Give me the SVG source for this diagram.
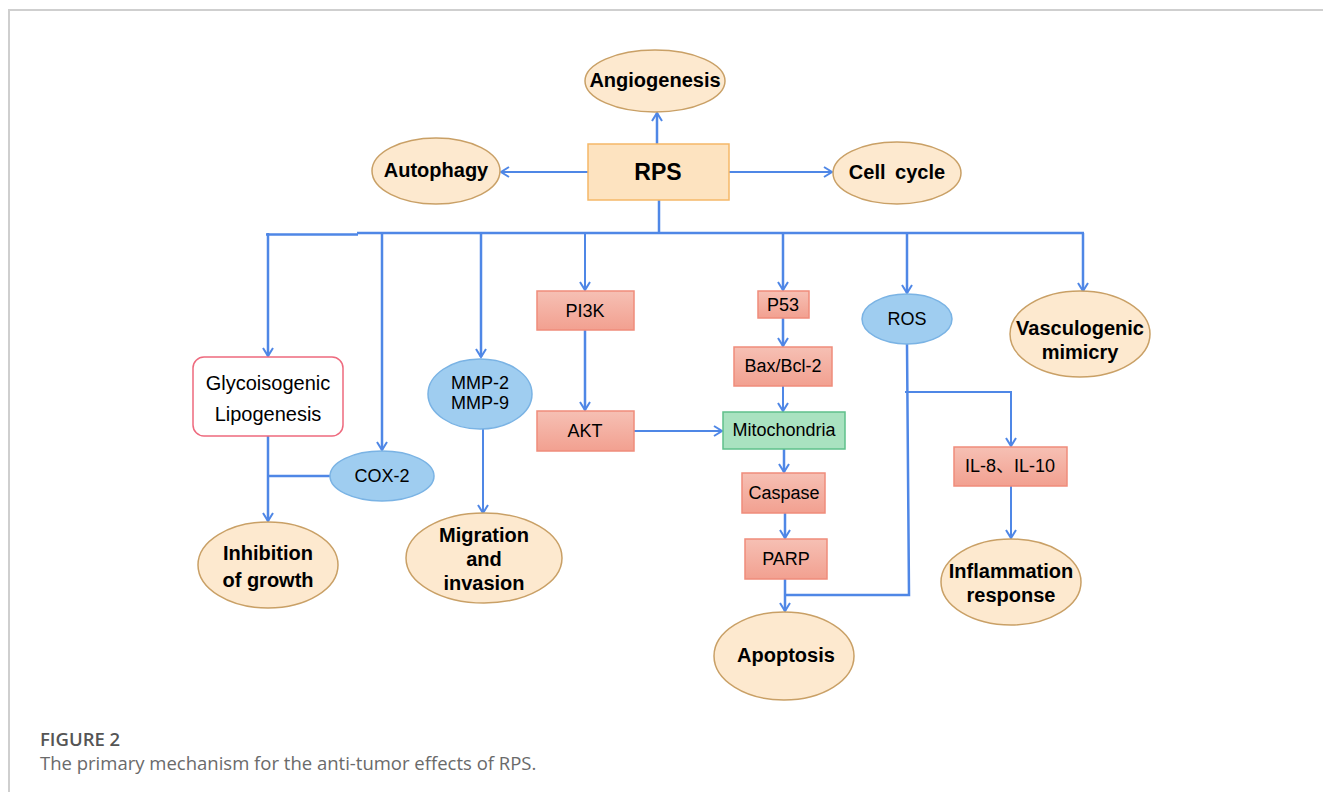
<svg xmlns="http://www.w3.org/2000/svg" width="1323" height="792" viewBox="0 0 1323 792">
<style>
.frame{fill:none;stroke:#cfcfcf;stroke-width:2}
.out{fill:#fde9cf;stroke:#c9a066;stroke-width:1.5}
.red{fill:url(#gr);stroke:#ef8c7b;stroke-width:1.5}
.blue{fill:#9fcdf0;stroke:#7ab3e4;stroke-width:1.5}
.green{fill:#a9e2c0;stroke:#5fc08b;stroke-width:1.5}
.rps{fill:#fde3c0;stroke:#f5b868;stroke-width:1.5}
.glyco{fill:#fff;stroke:#ee6a7e;stroke-width:1.5}
.b{font-family:"Liberation Sans",Arial,sans-serif;font-weight:bold;font-size:20px;fill:#000;text-anchor:middle;dominant-baseline:central}
.r{font-family:"Liberation Sans",Arial,"Noto Sans CJK SC",sans-serif;font-size:18px;fill:#000;text-anchor:middle;dominant-baseline:central}
.conn path{fill:none;stroke:#4f87e6;stroke-width:2.5}
.cap{font-family:"Open Sans",sans-serif}
</style>
<defs>
<linearGradient id="gr" x1="0" y1="0" x2="0" y2="1">
<stop offset="0" stop-color="#f6c0b4"/>
<stop offset="1" stop-color="#f2a090"/>
</linearGradient>
<marker id="ah" viewBox="-10 -7 12 14" refX="0" refY="0" markerWidth="12" markerHeight="14" markerUnits="userSpaceOnUse" orient="auto">
<path d="M-8,-5 L0,0 L-8,5" fill="none" stroke="#4f87e6" stroke-width="2"/>
</marker>
</defs>
<rect x="-5" y="-5" width="1340" height="810" fill="#fff"/>
<path class="frame" d="M9,792 V10 H1323"/>

<g class="conn">
<path d="M657,144 V113" marker-end="url(#ah)"/>
<path d="M588,172 H501" marker-end="url(#ah)" style="stroke-width:2.2"/>
<path d="M729,172 H832" marker-end="url(#ah)" style="stroke-width:2"/>
<path d="M659,200 V233"/>
<path d="M266,234.5 H358 M357,233 H1084"/>
<path d="M268,233 V356" marker-end="url(#ah)"/>
<path d="M382,233 V450" marker-end="url(#ah)"/>
<path d="M481,233 V357" marker-end="url(#ah)"/>
<path d="M585,233 V290" marker-end="url(#ah)" style="stroke-width:2"/>
<path d="M783,233 V290" marker-end="url(#ah)"/>
<path d="M907,233 V293" marker-end="url(#ah)"/>
<path d="M1083,233 V291" marker-end="url(#ah)"/>
<path d="M585,330 V410" marker-end="url(#ah)"/>
<path d="M783,318 V346" marker-end="url(#ah)"/>
<path d="M783,386 V411" marker-end="url(#ah)" style="stroke-width:2"/>
<path d="M634,431 H722" marker-end="url(#ah)" style="stroke-width:2"/>
<path d="M784,449 V472" marker-end="url(#ah)"/>
<path d="M785,513 V538" marker-end="url(#ah)"/>
<path d="M785,579 V611" marker-end="url(#ah)"/>
<path d="M907,344 L909,595 H785"/>
<path d="M905,392 H1011 V446" marker-end="url(#ah)" style="stroke-width:2"/>
<path d="M1011,486 V538" marker-end="url(#ah)" style="stroke-width:2"/>
<path d="M268,436 V521" marker-end="url(#ah)"/>
<path d="M330,476 H268"/>
<path d="M483,429 V513" marker-end="url(#ah)" style="stroke-width:2"/>
</g>

<g id="rps"><rect class="rps" x="588" y="144" width="141" height="56"/><text class="b" x="658" y="172" style="font-size:23px">RPS</text></g>
<g id="angiogenesis"><ellipse class="out" cx="655" cy="81" rx="70" ry="31"/><text class="b" x="655" y="80">Angiogenesis</text></g>
<g id="autophagy"><ellipse class="out" cx="436" cy="171" rx="64" ry="33"/><text class="b" x="436" y="170">Autophagy</text></g>
<g id="cellcycle"><ellipse class="out" cx="897" cy="173" rx="64" ry="31"/><text class="b" x="897" y="172" style="word-spacing:4px">Cell cycle</text></g>

<g id="glyco"><rect class="glyco" x="193" y="357" width="150" height="79" rx="11"/><text class="r" x="268" y="383" style="font-size:20px">Glycoisogenic</text><text class="r" x="268" y="414" style="font-size:20px">Lipogenesis</text></g>
<g id="cox2"><ellipse class="blue" cx="382" cy="476" rx="52" ry="25"/><text class="r" x="382" y="476">COX-2</text></g>
<g id="mmp"><ellipse class="blue" cx="480" cy="394" rx="52" ry="35"/><text class="r" x="480" y="383">MMP-2</text><text class="r" x="480" y="403">MMP-9</text></g>
<g id="pi3k"><rect class="red" x="537" y="291" width="97" height="39"/><text class="r" x="585" y="311">PI3K</text></g>
<g id="akt"><rect class="red" x="537" y="411" width="97" height="40"/><text class="r" x="585" y="431">AKT</text></g>
<g id="p53"><rect class="red" x="758" y="291" width="51" height="27"/><text class="r" x="783" y="305">P53</text></g>
<g id="baxbcl2"><rect class="red" x="734" y="347" width="98" height="39"/><text class="r" x="783" y="366">Bax/Bcl-2</text></g>
<g id="mitochondria"><rect class="green" x="723" y="412" width="122" height="37"/><text class="r" x="784" y="430">Mitochondria</text></g>
<g id="caspase"><rect class="red" x="742" y="473" width="83" height="40"/><text class="r" x="784" y="493">Caspase</text></g>
<g id="parp"><rect class="red" x="745" y="539" width="82" height="40"/><text class="r" x="786" y="559">PARP</text></g>
<g id="ros"><ellipse class="blue" cx="907" cy="319" rx="45" ry="25"/><text class="r" x="907" y="319">ROS</text></g>
<g id="il"><rect class="red" x="954" y="447" width="113" height="39"/><text class="r" x="1010" y="466">IL-8、IL-10</text></g>

<g id="inhibition"><ellipse class="out" cx="268" cy="565" rx="70" ry="43"/><text class="b" x="268" y="553">Inhibition</text><text class="b" x="268" y="580">of growth</text></g>
<g id="migration"><ellipse class="out" cx="484" cy="558" rx="78" ry="45"/><text class="b" x="484" y="535">Migration</text><text class="b" x="484" y="559">and</text><text class="b" x="484" y="583">invasion</text></g>
<g id="apoptosis"><ellipse class="out" cx="784" cy="656" rx="70" ry="44"/><text class="b" x="786" y="655">Apoptosis</text></g>
<g id="vasculogenic"><ellipse class="out" cx="1080" cy="334" rx="70" ry="43"/><text class="b" x="1080" y="328">Vasculogenic</text><text class="b" x="1080" y="352">mimicry</text></g>
<g id="inflammation"><ellipse class="out" cx="1011" cy="582" rx="70" ry="43"/><text class="b" x="1011" y="571">Inflammation</text><text class="b" x="1011" y="595">response</text></g>

<g id="caption">
<text class="cap" x="40" y="746" style="font-size:18.5px;font-weight:600;fill:#555">FIGURE 2</text>
<text class="cap" x="40" y="770" style="font-size:18.5px;fill:#6a6a6a">The primary mechanism for the anti-tumor effects of RPS.</text>
</g>
</svg>
